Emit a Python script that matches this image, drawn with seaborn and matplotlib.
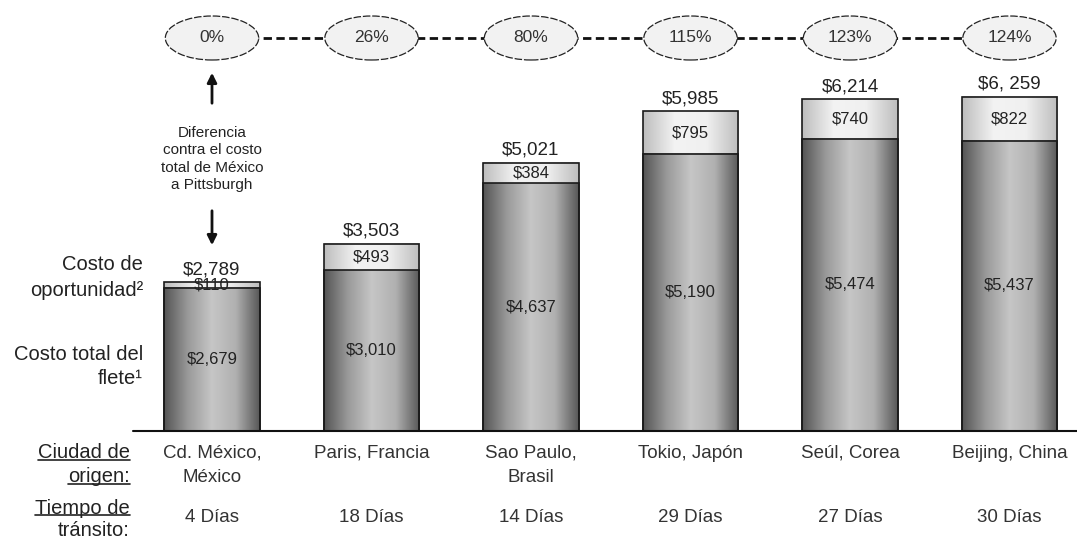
import numpy as np
import pandas as pd
import seaborn as sns
import matplotlib.pyplot as plt
from matplotlib.colors import LinearSegmentedColormap
from matplotlib.patches import Ellipse

# Data
ciudades = ['Cd. México,\nMéxico', 'Paris, Francia', 'Sao Paulo,\nBrasil',
            'Tokio, Japón', 'Seúl, Corea', 'Beijing, China']
flete = [2679, 3010, 4637, 5190, 5474, 5437]
oportunidad = [110, 493, 384, 795, 740, 822]
total_labels = ['$2,789', '$3,503', '$5,021', '$5,985', '$6,214', '$6, 259']
diferencia = ['0%', '26%', '80%', '115%', '123%', '124%']
dias = ['4 Días', '18 Días', '14 Días', '29 Días', '27 Días', '30 Días']

df = pd.DataFrame({'ciudad': ciudades, 'flete': flete, 'oportunidad': oportunidad})
df['total'] = df['flete'] + df['oportunidad']

W, H = 1077, 540
UPX = 18.73  # data units per pixel (vertical)


def py(p):
    # pixel row -> data y (baseline at pixel 431)
    return (431 - p) * UPX


sns.set_theme(style='white')
plt.rcParams['font.family'] = ['Liberation Sans', 'DejaVu Sans']

fig = plt.figure(figsize=(W / 100, H / 100), dpi=100)
ax = fig.add_axes([0, 0, 1, 1])

# stacked bars: totals behind, freight cost in front
sns.barplot(data=df, x='ciudad', y='total', color='#dddddd', width=0.6,
            edgecolor='#1a1a1a', linewidth=1.2, ax=ax)
n = len(df)
sns.barplot(data=df, x='ciudad', y='flete', color='#888888', width=0.6,
            edgecolor='#1a1a1a', linewidth=1.2, ax=ax)

# cylinder-like shading
light = LinearSegmentedColormap.from_list('light', ['#bdbdbd', '#f3f3f3', '#f0f0f0', '#bdbdbd'])
dark = LinearSegmentedColormap.from_list('dark', ['#555555', '#9a9a9a', '#c6c6c6', '#b0b0b0', '#575757'])
grad = np.linspace(0, 1, 256).reshape(1, -1)
for i, p in enumerate(ax.patches):
    x0, y0 = p.get_x(), p.get_y()
    w, h = p.get_width(), p.get_height()
    cmap = light if i < n else dark
    z = 1 if i < n else 2
    ax.imshow(grad, extent=[x0, x0 + w, y0, y0 + h], aspect='auto', cmap=cmap,
              origin='lower', zorder=z, interpolation='bilinear')
    p.set_facecolor('none')
    p.set_zorder(3)

ax.set_xlim(-212 / 159.5, (W - 212) / 159.5)
ax.set_ylim(py(H), py(0))
ax.axis('off')

# baseline
ax.axhline(0, xmin=133 / W, xmax=1, color='#111111', lw=1.5, zorder=4)

xs = np.arange(n)
for i in xs:
    ax.text(i, df['total'][i] + 4 * UPX, total_labels[i], ha='center', va='bottom',
            fontsize=13.5, color='#222222')
    ax.text(i, df['flete'][i] + df['oportunidad'][i] / 2, f"${df['oportunidad'][i]:,}",
            ha='center', va='center', fontsize=12, color='#222222', zorder=5)
    ax.text(i, df['flete'][i] / 2, f"${df['flete'][i]:,}", ha='center', va='center',
            fontsize=12, color='#222222', zorder=5)
    for k, line in enumerate(ciudades[i].split('\n')):
        ax.text(i, py(453 + 24 * k), line, ha='center', va='center',
                fontsize=13.5, color='#333333')
    ax.text(i, py(518), dias[i], ha='center', va='center', fontsize=13.5, color='#333333')

# percentage ellipses joined by a dashed line
ey = py(38)
ax.plot(xs, [ey] * n, color='#111111', lw=2, linestyle=(0, (3, 1.6)), zorder=4)
for i in xs:
    ax.add_patch(Ellipse((i, ey), 0.585, 44 * UPX, facecolor='#f2f2f2',
                         edgecolor='#222222', lw=0.9, linestyle=(0, (6, 1.5)), zorder=5))
    ax.text(i, ey, diferencia[i], ha='center', va='center', fontsize=12.5,
            color='#333333', zorder=6)

# note under the first ellipse
ax.annotate('', xy=(0, py(70)), xytext=(0, py(106)),
            arrowprops=dict(arrowstyle='-|>', color='#111111', lw=2, mutation_scale=14))
ax.text(0, py(159), 'Diferencia\ncontra el costo\ntotal de México\na Pittsburgh',
        ha='center', va='center', fontsize=11, linespacing=1.3, color='#222222')
ax.annotate('', xy=(0, py(248)), xytext=(0, py(208)),
            arrowprops=dict(arrowstyle='-|>', color='#111111', lw=2, mutation_scale=14))

# row labels on the left
xl = (143 - 212) / 159.5
ax.text(xl, py(265), 'Costo de', ha='right', va='center', fontsize=14.5, color='#222222')
ax.text(xl, py(290), 'oportunidad²', ha='right', va='center', fontsize=14.5, color='#222222')
ax.text(xl, py(355), 'Costo total del', ha='right', va='center', fontsize=14.5, color='#222222')
ax.text(xl, py(379), 'flete¹', ha='right', va='center', fontsize=14.5, color='#222222')

xu = (130 - 212) / 159.5
under = []
for txt, p in [('Ciudad de', 453), ('origen:', 477), ('Tiempo de', 508), ('tránsito:', 530)]:
    under.append(ax.text(xu, py(p), txt, ha='right', va='center', fontsize=14.5,
                         color='#222222'))

# underline the lower row headings (only the first line of each block)
fig.canvas.draw()
r = fig.canvas.get_renderer()
inv = ax.transData.inverted()
for t in [under[0], under[1], under[2]]:
    bb = t.get_window_extent(renderer=r)
    (a, b), (c, d) = inv.transform([(bb.x0, bb.y0 + 3), (bb.x1, bb.y0 + 3)])
    ax.plot([a, c], [b, d], color='#222222', lw=1.2)

fig.savefig('out.png', dpi=100)
